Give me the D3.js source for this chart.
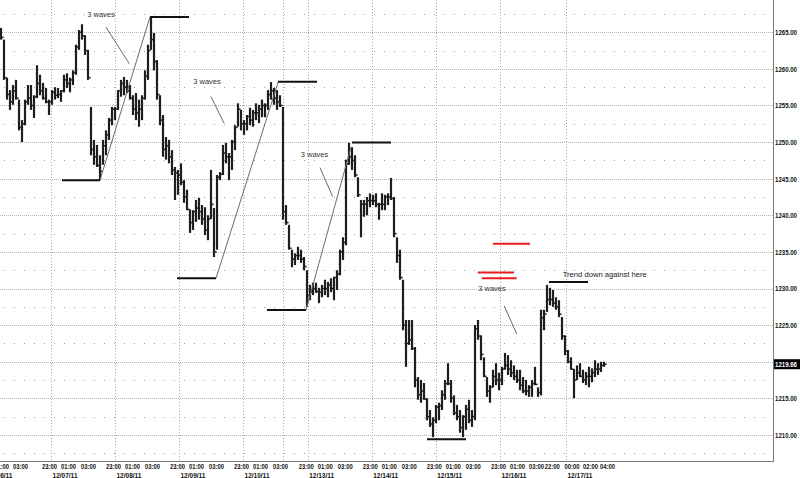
<!DOCTYPE html>
<html><head><meta charset="utf-8">
<script src="https://cdn.jsdelivr.net/npm/d3@7"></script>
<style>body{margin:0;background:#fff}svg{display:block}</style>
</head><body>
<svg id="c" width="800" height="478"></svg>
<script>
// ---- data (bar index based, 202 bars) ----
const highs=[1265.6,1264.0,1258.8,1257.1,1257.8,1258.5,1255.8,1253.0,1255.8,1257.8,
1257.8,1256.4,1260.5,1259.2,1258.1,1257.4,1255.8,1257.1,1257.5,1257.4,
1257.1,1259.2,1259.4,1258.8,1259.8,1263.3,1265.3,1266.1,1264.6,1262.6,
1254.8,1250.3,1249.6,1248.2,1250.3,1251.6,1253.3,1254.8,1254.8,1257.1,
1258.5,1258.9,1258.5,1257.8,1256.4,1256.7,1255.8,1256.4,1259.8,1263.3,
1267.1,1264.9,1261.2,1256.4,1253.7,1250.7,1250.3,1248.9,1246.6,1246.2,
1247.1,1244.8,1243.5,1240.8,1240.7,1242.1,1242.4,1241.4,1241.1,1240.0,
1246.2,1241.0,1245.5,1245.9,1249.6,1249.9,1248.5,1250.3,1252.3,1255.3,
1254.4,1253.0,1253.7,1254.7,1254.4,1255.3,1255.1,1255.8,1255.3,1257.1,
1258.2,1257.4,1257.1,1256.4,1254.8,1241.4,1238.7,1235.3,1234.8,1235.7,
1235.3,1234.3,1232.5,1230.5,1230.8,1230.8,1230.1,1230.5,1231.2,1230.9,
1231.4,1231.6,1232.5,1235.3,1237.0,1247.6,1249.9,1249.3,1248.2,1245.2,
1242.1,1242.1,1242.5,1243.0,1242.8,1243.0,1241.7,1243.0,1242.8,1243.0,
1245.1,1242.5,1237.0,1235.3,1231.2,1225.7,1225.7,1225.7,1222.0,1217.9,
1217.5,1217.1,1215.0,1213.4,1212.4,1214.1,1214.4,1216.1,1217.5,1219.8,
1217.5,1215.4,1214.1,1213.4,1212.7,1214.1,1214.8,1213.4,1225.0,1225.7,
1223.6,1220.6,1217.9,1216.8,1218.9,1219.8,1218.5,1219.3,1221.2,1220.9,
1220.2,1219.5,1218.9,1218.9,1217.9,1217.5,1216.8,1217.5,1219.3,1216.5,
1227.1,1227.1,1230.5,1230.1,1229.8,1228.8,1228.4,1226.1,1223.6,1221.6,
1220.6,1219.0,1219.5,1219.8,1218.9,1218.6,1219.3,1219.1,1220.2,1219.8,
1220.0,1220.0];
const lows=[1264.0,1258.5,1255.8,1254.4,1255.1,1255.8,1251.6,1250.0,1252.3,1255.1,
1254.4,1253.3,1256.0,1256.4,1255.8,1255.3,1253.7,1255.1,1255.8,1256.0,
1255.5,1256.8,1257.4,1256.8,1257.8,1259.2,1262.6,1264.0,1261.9,1258.5,
1248.2,1246.9,1246.6,1244.8,1246.9,1248.2,1250.3,1252.3,1253.0,1254.4,
1256.2,1256.4,1256.7,1255.8,1253.7,1253.0,1252.1,1253.0,1255.8,1258.5,
1262.6,1259.8,1255.8,1252.3,1248.0,1247.6,1247.1,1245.5,1242.1,1242.8,
1244.1,1241.7,1240.7,1237.6,1238.0,1239.1,1239.4,1238.7,1237.3,1236.6,
1239.5,1234.3,1235.3,1244.8,1245.5,1247.1,1244.8,1246.2,1248.9,1252.1,
1251.6,1251.0,1251.6,1252.3,1252.1,1253.0,1252.6,1253.4,1253.4,1254.4,
1255.8,1255.1,1254.4,1254.8,1239.4,1238.7,1235.3,1232.9,1233.2,1233.9,
1233.5,1232.5,1227.5,1228.4,1229.1,1229.4,1228.0,1228.8,1229.1,1228.8,
1229.5,1228.4,1229.8,1231.8,1233.9,1235.9,1246.9,1246.2,1245.2,1242.5,
1237.0,1239.8,1240.0,1241.1,1241.4,1241.1,1239.4,1240.7,1240.7,1241.4,
1242.1,1237.0,1233.5,1231.2,1224.3,1219.3,1222.3,1221.6,1216.5,1214.8,
1214.4,1214.8,1212.0,1211.1,1209.7,1211.6,1212.0,1213.4,1214.8,1216.8,
1214.4,1212.7,1212.0,1210.3,1209.7,1210.7,1211.6,1211.1,1212.0,1223.0,
1220.2,1217.9,1215.2,1214.4,1216.5,1216.8,1216.1,1216.8,1218.9,1218.2,
1217.9,1217.5,1217.1,1216.1,1215.7,1215.4,1215.2,1215.2,1216.8,1215.2,
1215.4,1224.3,1226.8,1227.7,1227.5,1227.1,1226.1,1223.0,1220.9,1219.8,
1218.9,1215.0,1217.5,1217.9,1217.1,1216.8,1216.5,1217.2,1217.9,1218.2,
1218.6,1219.3];
const closes=[1264.3,1258.8,1256.5,1255.5,1257.0,1256.0,1252.0,1252.5,1255.5,1256.0,
1255.0,1256.2,1258.0,1257.0,1256.0,1255.5,1255.5,1256.8,1256.4,1256.5,
1257.0,1258.5,1258.0,1258.5,1259.5,1263.0,1265.0,1264.5,1262.5,1258.8,
1249.0,1248.0,1246.8,1246.0,1249.5,1251.0,1253.0,1254.5,1254.5,1257.0,
1258.0,1257.5,1257.0,1256.0,1254.5,1254.0,1254.5,1256.0,1259.0,1262.5,
1264.0,1261.0,1256.5,1253.0,1249.0,1249.5,1248.0,1246.2,1245.8,1245.5,
1244.5,1242.5,1240.8,1239.0,1240.5,1241.0,1240.5,1239.5,1238.0,1239.5,
1241.5,1235.0,1245.2,1245.6,1248.5,1248.0,1248.0,1250.0,1252.0,1254.5,
1252.5,1252.5,1253.5,1253.0,1254.0,1254.0,1254.5,1255.0,1255.0,1256.5,
1257.0,1256.0,1255.5,1255.0,1240.5,1239.0,1235.5,1234.0,1234.5,1234.5,
1234.0,1233.0,1229.0,1229.5,1230.0,1229.6,1229.5,1230.0,1230.0,1230.5,
1230.0,1231.5,1232.0,1235.0,1236.3,1247.0,1248.0,1247.5,1245.5,1242.8,
1241.5,1241.5,1242.0,1242.0,1242.0,1241.5,1241.5,1241.5,1242.5,1242.5,
1242.3,1237.5,1234.5,1231.5,1225.0,1222.5,1223.0,1221.8,1217.5,1215.5,
1216.0,1214.9,1212.5,1211.5,1212.0,1213.8,1214.0,1215.5,1217.0,1217.0,
1215.0,1213.0,1212.5,1211.0,1212.5,1213.5,1212.0,1212.5,1224.5,1223.5,
1221.0,1218.0,1216.0,1216.5,1218.0,1217.5,1217.5,1219.0,1219.5,1219.0,
1218.5,1218.0,1217.5,1216.8,1216.0,1216.0,1216.5,1217.0,1216.9,1215.8,
1226.0,1226.5,1228.5,1228.5,1228.0,1227.5,1226.5,1223.5,1221.5,1220.0,
1219.0,1217.5,1218.5,1218.0,1217.5,1218.0,1218.0,1218.5,1219.0,1219.0,
1219.5,1219.66];
const lastPrice=1219.66;

const priceTicks=[1210,1215,1220,1225,1230,1235,1240,1245,1250,1255,1260,1265];
const priceLabelTicks=[1210,1215,1225,1230,1235,1240,1245,1250,1255,1260,1265];
const minorPriceTicks=[1207.5,1212.5,1217.5,1222.5,1227.5,1232.5,1237.5,1242.5,1247.5,1252.5,1257.5,1262.5,1267.5];

const timeTickPos=[0,6.33,16,22.33,29,37.33,43.67,50.33,58.67,65,71.67,80,86.33,93,
101.57,107.9,114.57,122.9,129.23,135.9,144.23,150.57,157.23,165.67,172,178.33,183.6,190.17,196.33,202];
const timeTickLabels=["01:00","03:00","23:00","01:00","03:00","23:00","01:00","03:00","23:00","01:00","03:00",
"23:00","01:00","03:00","23:00","01:00","03:00","23:00","01:00","03:00","23:00","01:00","03:00",
"23:00","01:00","03:00","22:00","00:00","02:00","04:00"];
const dayPos=[-5,16.67,38,59.33,80.67,102.23,123.57,144.9,166.33,188.33];
const dayLabels=["12/06/11","12/07/11","12/08/11","12/09/11","12/10/11","12/13/11","12/14/11","12/15/11","12/16/11","12/17/11"];
const dayGridPos=[16.67,38,59.33,80.67,94,102.23,123.57,144.9,166.33,188.33];

// annotations (bar index, price)
const levelLines=[[20.33,33,1244.8],[49.67,62.67,1267.1],[58.67,71.67,1231.4],[92.33,105.33,1258.25],
[88.67,101.67,1227.06],[117,130,1249.95],[142,155,1209.4],[182.67,195.67,1230.9]];
const redLines=[[164,176.33,1236.1],[158.9,171,1232.2],[160.33,171.9,1231.4]];
const trendLines=[[33,1244.8,49.67,1267.1],[71.67,1231.4,92.43,1258.25],[101.67,1227.06,116.67,1249.3]];
const leaderLines=[[35,1265.7,42.77,1260.7],[70,1256.2,74.33,1252.6],[106.33,1246.5,110.57,1242.55],[167.77,1227.6,171.9,1223.8]];
const waveNotes=[[33.33,1267.4],[68.67,1258.25],[104.5,1248.4],[163.67,1229.97]];
const waveText="3 waves";
const trendNote=[187.23,1231.94,"Trend down against here"];

// ---- drawing ----
const svg=d3.select("#c");
const plotR=773.5, plotB=461.5;
const x=d3.scaleLinear().domain([0,201]).range([1,604]);
const y=d3.scaleLinear().domain([1206.37,1269.41]).range([plotB,0]);
const font="Liberation Sans, Arial, sans-serif";

svg.append("rect").attr("width",800).attr("height",478).attr("fill","#fff");

const grid=svg.append("g");
grid.selectAll(".maj").data(priceTicks).join("line")
  .attr("x1",0).attr("x2",plotR).attr("y1",d=>Math.round(y(d))+0.5).attr("y2",d=>Math.round(y(d))+0.5)
  .attr("stroke","#b4b4b4").attr("stroke-dasharray","1,1");
grid.selectAll(".min").data(minorPriceTicks).join("line")
  .attr("x1",4).attr("x2",plotR).attr("y1",d=>Math.round(y(d))+0.5).attr("y2",d=>Math.round(y(d))+0.5)
  .attr("stroke","#a0a0a0").attr("stroke-dasharray","1,9");
grid.selectAll(".v").data(dayGridPos).join("line")
  .attr("x1",d=>Math.round(x(d))+0.5).attr("x2",d=>Math.round(x(d))+0.5).attr("y1",0).attr("y2",plotB)
  .attr("stroke","#a8a8a8").attr("stroke-dasharray","1,2");

// OHLC bars
const bars=svg.append("g").attr("stroke","#1e1e1e");
bars.selectAll("line.hl").data(highs).join("line")
  .attr("x1",(d,i)=>x(i)).attr("x2",(d,i)=>x(i))
  .attr("y1",(d,i)=>y(highs[i])).attr("y2",(d,i)=>y(lows[i]))
  .attr("stroke-width",2.2);
bars.selectAll("line.c").data(closes).join("line")
  .attr("x1",(d,i)=>x(i)).attr("x2",(d,i)=>x(i)+2.6)
  .attr("y1",d=>y(d)).attr("y2",d=>y(d)).attr("stroke-width",1.5);

// annotations
const ann=svg.append("g");
ann.selectAll(".tl").data(trendLines).join("line")
  .attr("x1",d=>x(d[0])).attr("y1",d=>y(d[1])).attr("x2",d=>x(d[2])).attr("y2",d=>y(d[3]))
  .attr("stroke","#6a6a6a").attr("stroke-width",1);
ann.selectAll(".ld").data(leaderLines).join("line")
  .attr("x1",d=>x(d[0])).attr("y1",d=>y(d[1])).attr("x2",d=>x(d[2])).attr("y2",d=>y(d[3]))
  .attr("stroke","#6a6a6a").attr("stroke-width",1);
ann.selectAll(".lv").data(levelLines).join("line")
  .attr("x1",d=>x(d[0])).attr("x2",d=>x(d[1])).attr("y1",d=>y(d[2])).attr("y2",d=>y(d[2]))
  .attr("stroke","#111").attr("stroke-width",2);
ann.selectAll(".rd").data(redLines).join("line")
  .attr("x1",d=>x(d[0])).attr("x2",d=>x(d[1])).attr("y1",d=>y(d[2])).attr("y2",d=>y(d[2]))
  .attr("stroke","#ee1c1c").attr("stroke-width",2);
ann.selectAll(".wn").data(waveNotes).join("text")
  .attr("x",d=>x(d[0])).attr("y",d=>y(d[1])+2.7).attr("text-anchor","middle")
  .attr("font-family",font).attr("font-size","7.5px").attr("fill","#333")
  .text(waveText);
ann.append("text").attr("x",x(trendNote[0])).attr("y",y(trendNote[1])+2.7)
  .attr("font-family",font).attr("font-size","7.5px").attr("fill","#222")
  .attr("textLength",84).attr("lengthAdjust","spacingAndGlyphs").text(trendNote[2]);

// frame
svg.append("line").attr("x1",plotR).attr("x2",plotR).attr("y1",0).attr("y2",plotB+0.5).attr("stroke","#7a7a7a");
svg.append("line").attr("x1",0).attr("x2",plotR).attr("y1",plotB).attr("y2",plotB).attr("stroke","#7a7a7a");

// x axis: times
const xt=svg.append("g").attr("transform",`translate(0,${plotB})`)
  .call(d3.axisBottom(x).tickValues(timeTickPos).tickFormat((d,i)=>timeTickLabels[i]).tickSize(0).tickPadding(0));
xt.select(".domain").remove();
xt.selectAll("text").attr("y",7.2).attr("dy",0).attr("font-family",font).attr("font-size","7px")
  .attr("font-weight","bold").attr("fill","#111").attr("textLength",15).attr("lengthAdjust","spacingAndGlyphs");
// x axis: dates
const xd=svg.append("g").attr("transform",`translate(0,${plotB})`)
  .call(d3.axisBottom(x).tickValues(dayPos).tickFormat((d,i)=>dayLabels[i]).tickSize(0).tickPadding(0));
xd.select(".domain").remove();
xd.selectAll("text").attr("y",16).attr("dy",0).attr("x",1).attr("text-anchor","start").attr("font-family",font)
  .attr("font-size","7px").attr("font-weight","bold").attr("fill","#111")
  .attr("textLength",25).attr("lengthAdjust","spacingAndGlyphs");

// y axis
const ya=svg.append("g").attr("transform",`translate(${plotR},0)`)
  .call(d3.axisRight(y).tickValues(priceLabelTicks).tickFormat(d3.format(".2f")).tickSize(0).tickPadding(1.5));
ya.select(".domain").remove();
ya.selectAll("text").attr("dy","0.35em").attr("font-family",font).attr("font-size","7px")
  .attr("font-weight","bold").attr("fill","#111").attr("textLength",22).attr("lengthAdjust","spacingAndGlyphs");

// last price label
const lp=svg.append("g").attr("transform",`translate(${plotR},${y(lastPrice)})`);
lp.append("rect").attr("x",0.5).attr("y",-5).attr("width",26).attr("height",10).attr("fill","#000");
lp.append("text").attr("x",1.5).attr("y",0).attr("dy","0.35em").attr("font-family",font).attr("font-size","7px")
  .attr("font-weight","bold").attr("fill","#fff").attr("textLength",22).attr("lengthAdjust","spacingAndGlyphs")
  .text(d3.format(".2f")(lastPrice));
</script>
</body></html>
